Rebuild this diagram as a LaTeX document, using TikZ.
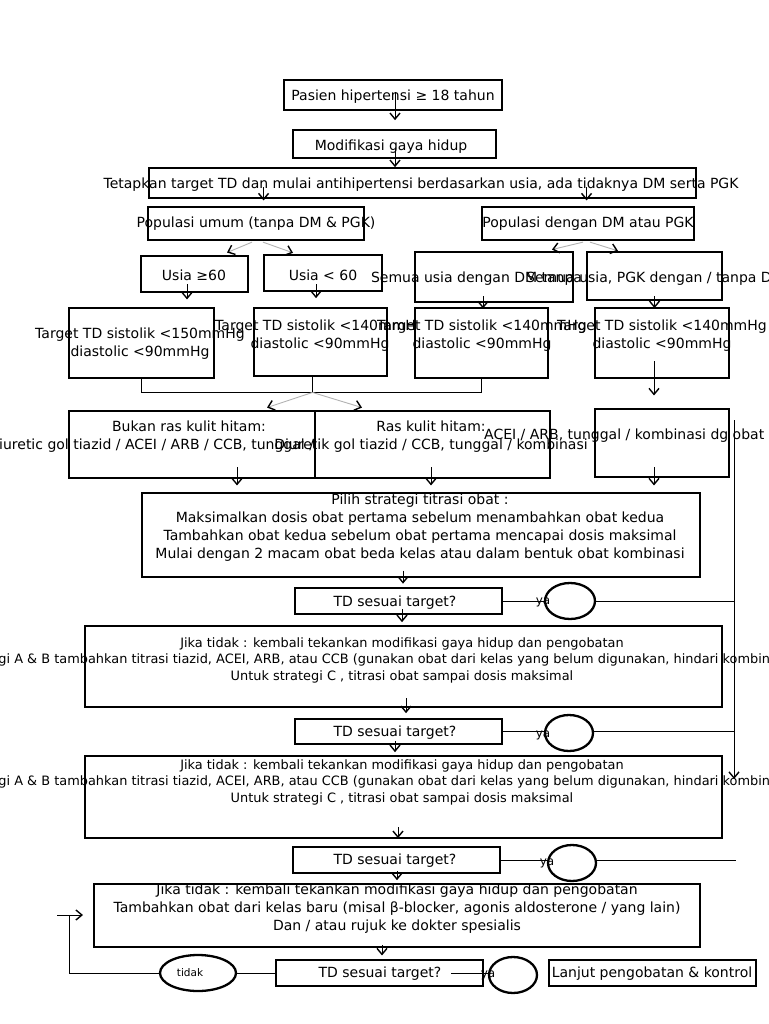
\documentclass[tikz,border=0pt]{standalone}
\usepackage{fontspec}
\setmainfont{DejaVu Sans}
\usetikzlibrary{arrows.meta,fit,shapes.geometric,calc}
\newcommand\bx[6][]{\node[bxs,#1,fit={(#3,#4) (#5,#6)}] (#2) {};}
\begin{document}
\begin{tikzpicture}[x=1pt,y=-1pt,
  bxs/.style={draw, fill=white, inner sep=0pt, line width=2.3pt},
  hv/.style={line width=2.9pt},
  thinb/.style={line width=1.3pt},
  tx/.style={inner sep=0pt, align=center, yshift=-2pt, font=\fontsize{14}{18}\selectfont},
  txs/.style={inner sep=0pt, align=center, yshift=-2pt, font=\fontsize{12.9}{16.5}\selectfont},
  lab/.style={inner sep=0pt, font=\fontsize{12}{14}\selectfont},
  ln/.style={line width=0.9pt},
  gl/.style={line width=0.9pt, draw=black!30},
  tip/.style={-{Straight Barb[length=6pt,width=10pt,line width=1.4pt,color=black]}},
  arr/.style={ln, tip},
  ell/.style={draw, ellipse, line width=2.3pt, inner sep=0pt}
]
\useasboundingbox (0,0) rectangle (768,1024);
\fill[white] (0,0) rectangle (768,1024);
\clip (0,0) rectangle (768,1024);

% top
\bx{p1}{284}{80}{502}{110}
\node[tx] (p1t) at (393,95) {Pasien hipertensi ≥ 18 tahun};
\bx{m1}{293}{130}{496}{158}
\node[tx] (m1t) at (391,145) {Modifikasi gaya hidup};
\bx[hv]{t1}{149}{168}{696}{198}
\node[tx] (t1t) at (421,183) {Tetapkan target TD dan mulai antihipertensi berdasarkan usia, ada tidaknya DM serta PGK};

\bx{pu}{148}{207}{364}{240}
\node[tx] (put) at (256,222) {Populasi umum (tanpa DM \& PGK)};
\bx{pd}{482}{207}{694}{240}
\node[tx] (pdt) at (588,222) {Populasi dengan DM atau PGK};

\bx[hv]{u1}{141}{256}{248}{292}
\node[tx] (u1t) at (194,273) {Usia ≥60};
\bx{u2}{264}{255}{382}{291}
\node[tx] (u2t) at (323,273) {Usia < 60};
\bx[hv]{s1}{415}{252}{573}{302}
\node[tx] (s1t) at (493,277) {Semua usia dengan DM tanpa PGK};
\bx{s2}{587}{252}{722}{300}
\node[tx] (s2t) at (655,277) {Semua usia, PGK dengan / tanpa DM};

\bx[hv]{g1}{69}{308}{214}{378}
\node[tx] (g1t) at (140,342) {Target TD sistolik <150mmHg\\diastolic <90mmHg};
\bx[hv]{g2}{254}{308}{387}{376}
\node[tx] (g2t) at (320,334) {Target TD sistolik <140mmHg\\diastolic <90mmHg};
\bx[hv]{g3}{415}{308}{548}{378}
\node[tx] (g3t) at (482,334) {Target TD sistolik <140mmHg\\diastolic <90mmHg};
\bx[hv]{g4}{595}{308}{729}{378}
\node[tx] (g4t) at (662,334) {Target TD sistolik <140mmHg\\diastolic <90mmHg};

\bx[hv]{b1}{69}{411}{315}{478}
\node[tx] (b1t) at (189,435) {Bukan ras kulit hitam:\\Diuretic gol tiazid / ACEI / ARB / CCB, tunggal / kombinasi};
\bx[hv]{b2}{315}{411}{550}{478}
\node[tx] (b2t) at (431,435) {Ras kulit hitam:\\Diuretik gol tiazid / CCB, tunggal / kombinasi};
\bx[hv]{b3}{595}{409}{729}{477}
\node[tx,anchor=west] (b3t) at (484,434) {ACEI / ARB, tunggal / kombinasi dg obat lain};

\bx[thinb]{ps}{142}{493}{700}{577}
\node[tx] (pst) at (420,526) {Pilih strategi titrasi obat :\\Maksimalkan dosis obat pertama sebelum menambahkan obat kedua\\Tambahkan obat kedua sebelum obat pertama mencapai dosis maksimal\\Mulai dengan 2 macam obat beda kelas atau dalam bentuk obat kombinasi};

\bx{td1}{295}{588}{502}{614}
\node[tx] (td1t) at (395,601) {TD sesuai target?};
\bx{j1}{85}{626}{722}{707}
\node[txs] (j1t) at (402,658) {Jika tidak : kembali tekankan modifikasi gaya hidup dan pengobatan\\Untuk strategi A \& B tambahkan titrasi tiazid, ACEI, ARB, atau CCB (gunakan obat dari kelas yang belum digunakan, hindari kombinasi ACEI dan ARB)\\Untuk strategi C , titrasi obat sampai dosis maksimal};
\bx{td2}{295}{719}{502}{744}
\node[tx] (td2t) at (395,731) {TD sesuai target?};
\bx{j2}{85}{756}{722}{838}
\node[txs] (j2t) at (402,780) {Jika tidak : kembali tekankan modifikasi gaya hidup dan pengobatan\\Untuk strategi A \& B tambahkan titrasi tiazid, ACEI, ARB, atau CCB (gunakan obat dari kelas yang belum digunakan, hindari kombinasi ACEI dan ARB)\\Untuk strategi C , titrasi obat sampai dosis maksimal};
\bx{td3}{293}{847}{500}{873}
\node[tx] (td3t) at (395,859) {TD sesuai target?};
\bx[line width=2.9pt]{j3}{94}{884}{700}{947}
\node[tx] (j3t) at (397,907) {Jika tidak : kembali tekankan modifikasi gaya hidup dan pengobatan\\Tambahkan obat dari kelas baru (misal β-blocker, agonis aldosterone / yang lain)\\Dan / atau rujuk ke dokter spesialis};
\bx{td4}{276}{960}{483}{986}
\node[tx] (td4t) at (380,972) {TD sesuai target?};
\bx{lj}{549}{960}{756}{986}
\node[tx] (ljt) at (652,972) {Lanjut pengobatan \& kontrol};

% ellipses
\node[ell, minimum width=50pt, minimum height=36pt] (c1) at (570,601) {};
\node[ell, minimum width=48pt, minimum height=36pt] (c2) at (569,733) {};
\node[ell, minimum width=48pt, minimum height=36pt] (c3) at (572,863) {};
\node[ell, minimum width=48pt, minimum height=36pt] (c4) at (513,975) {};
\node[ell, minimum width=76pt, minimum height=36pt] (tk) at (198,973) {};
\node[inner sep=0pt, font=\fontsize{10.5}{12}\selectfont] (tkt) at (190,973) {tidak};
\node[lab] (ya1) at (543,602) {ya};
\node[lab] (ya2) at (543,735) {ya};
\node[lab] (ya3) at (547,863) {ya};
\node[lab] (ya4) at (488,975) {ya};

% arrows
\draw[arr] ($(p1.south)+(2,-19)$) -- ($(p1.south)+(2,9)$);
\draw[arr] ($(m1.south)+(0.5,-11)$) -- ($(m1.south)+(0.5,8)$);
\draw[arr] ($(t1.south west)+(116,-12)$) -- ($(t1.south west)+(116,1)$);
\draw[arr] ($(t1.south west)+(439,-12)$) -- ($(t1.south west)+(439,1)$);
\draw[gl,tip] ($(pu.south)+(-4,1)$) -- ($(u1.north)+(32.5,-2)$);
\draw[gl,tip] ($(pu.south)+(7,1)$) -- ($(u2.north)+(-30,-1)$);
\draw[gl,tip] ($(pd.south)+(-5,1)$) -- ($(s1.north)+(58,-1)$);
\draw[gl,tip] ($(pd.south)+(2,1)$) -- ($(s2.north)+(-36.5,0)$);
\draw[arr] ($(u1.south)+(-7.5,-9)$) -- ($(u1.south)+(-7.5,6)$);
\draw[arr] ($(u2.south)+(-7,-8)$) -- ($(u2.south)+(-7,6)$);
\draw[arr] ($(s1.south)+(-11,-7)$) -- ($(s1.south)+(-11,5)$);
\draw[arr] ($(s2.south)+(0,-5)$) -- ($(s2.south)+(0,7)$);

\draw[ln] (g1.south) -- ++(0,13) -| (g3.south);
\draw[ln] ($(g2.south)+(-8,0)$) -- ++(0,15) coordinate (br);
\draw[gl,tip] (br) -- ($(b1.north)+(75,-2)$);
\draw[gl,tip] (br) -- ($(b2.north)+(-70.5,-2)$);
\draw[arr] ($(g4.south)+(-8,-18)$) -- ($(g4.south)+(-8,16)$);

\coordinate (vt) at (734,420);
\coordinate (vb) at (734,779);
\draw[arr] (vt) -- (vb);
\draw[arr] ($(b1.south)+(45,-12)$) -- ($(b1.south)+(45,6)$);
\draw[arr] ($(b2.south)+(-1.5,-12)$) -- ($(b2.south)+(-1.5,6)$);
\draw[arr] ($(b3.south)+(-8,-11)$) -- ($(b3.south)+(-8,7)$);
\draw[arr] ($(ps.south)+(-18,-7)$) -- ($(ps.south)+(-18,6)$);

\coordinate (r3) at (736,859);
\draw[ln] (td1.east) -- (td1.east -| c1.west);
\draw[ln] (td1.east -| c1.east) -- (td1.east -| vt);
\draw[ln] (td2.east) -- (td2.east -| c2.west);
\draw[ln] (td2.east -| c2.east) -- (td2.east -| vt);
\draw[ln] (td3.east) -- (td3.east -| c3.west);
\draw[ln] (td3.east -| c3.east) -- (td3.east -| r3);
\draw[ln] ($(td4.east)+(-33,0)$) -- (td4.east -| c4.west);
\draw[ln] (td4.west -| tk.east) -- (td4.west);
\coordinate (lc1) at (69,915);
\draw[ln] (tk.west) -| (lc1);
\coordinate (la) at (57,915);
\coordinate (lb) at (83,915);
\draw[arr] (la) -- (lb);

\draw[arr] ($(td1.south)+(3.5,-6)$) -- ($(td1.south)+(3.5,7)$);
\draw[arr] ($(j1.south)+(2.5,-10)$) -- ($(j1.south)+(2.5,5)$);
\draw[arr] ($(td2.south)+(-3.5,-4)$) -- ($(td2.south)+(-3.5,7)$);
\draw[arr] ($(j2.south)+(-5.5,-12)$) -- ($(j2.south)+(-5.5,-1)$);
\draw[arr] ($(td3.south)+(0.5,-3)$) -- ($(td3.south)+(0.5,6)$);
\draw[arr] ($(j3.south)+(-15,-3)$) -- ($(j3.south)+(-15,7)$);
\end{tikzpicture}
\end{document}
